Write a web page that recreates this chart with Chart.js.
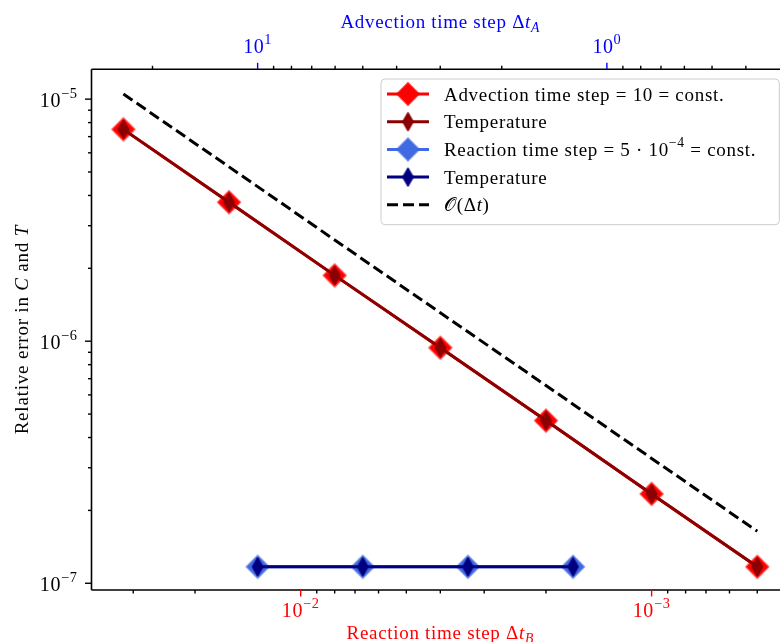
<!DOCTYPE html>
<html>
<head>
<meta charset="utf-8">
<script src="https://cdn.jsdelivr.net/npm/chart.js@4.4.1/dist/chart.umd.min.js"></script>
<style>
html, body { margin: 0; padding: 0; background: #fff; overflow: hidden; }
#errorChart { position: absolute; left: 0; top: 0; }
</style>
</head>
<body>
<canvas id="errorChart" width="800" height="642"></canvas>
<script>
// time steps: reaction (bottom axis) and advection (top axis)
const reactionSteps = [0.032, 0.016, 0.008, 0.004, 0.002, 0.001, 0.0005];
const advectionSteps = [10, 5, 2.5, 1.25];

// relative errors
const errAdvConst = [7.5e-6, 3.75e-6, 1.87e-6, 9.4e-7, 4.7e-7, 2.34e-7, 1.17e-7];
const tempAdvConst = [7.5e-6, 3.75e-6, 1.87e-6, 9.4e-7, 4.7e-7, 2.34e-7, 1.17e-7];
const errReacConst = [1.17e-7, 1.17e-7, 1.17e-7, 1.17e-7];
const tempReacConst = [1.17e-7, 1.17e-7, 1.17e-7, 1.17e-7];
const orderRef = [1.05e-5, 5.25e-6, 2.62e-6, 1.31e-6, 6.56e-7, 3.28e-7, 1.64e-7];

// major ticks
const yTicks = [1e-5, 1e-6, 1e-7];
const bottomTicks = [1e-2, 1e-3];
const topTicks = [10, 1];

const FONT = '"Liberation Serif", "DejaVu Serif", serif';

function diamondImg(w, h, fill, edge, lw) {
    const c = document.createElement('canvas');
    c.width = Math.ceil(w + lw * 2 + 2);
    c.height = Math.ceil(h + lw * 2 + 2);
    const g = c.getContext('2d');
    const cx = c.width / 2, cy = c.height / 2;
    g.beginPath();
    g.moveTo(cx, cy - h / 2);
    g.lineTo(cx + w / 2, cy);
    g.lineTo(cx, cy + h / 2);
    g.lineTo(cx - w / 2, cy);
    g.closePath();
    g.fillStyle = fill;
    g.fill();
    if (lw) {
        g.strokeStyle = edge;
        g.lineWidth = lw;
        g.stroke();
    }
    return c;
}

const bigRed = diamondImg(22, 22, '#ff0000', 'rgba(255,0,0,0.65)', 2);
const thinDarkRed = diamondImg(11, 19, '#8b0000', '#8b0000', 1);
const bigBlue = diamondImg(22, 22, '#4169e1', 'rgba(65,105,225,0.65)', 2);
const thinNavy = diamondImg(11, 19, '#000080', '#000080', 1);

function pts(xs, ys) {
    return xs.map((x, i) => ({x: x, y: ys[i]}));
}

// rich text helpers: kinds r (roman), i (italic), sup, sub (italic subscript)
function fontFor(k, size) {
    const small = k === 'sup' || k === 'sub';
    const italic = k === 'i' || k === 'sub';
    return (italic ? 'italic ' : '') + (small ? (size * 0.72).toFixed(1) : size) + 'px ' + FONT;
}

function drawRich(ctx, parts, x, y, size, align, color, spacing) {
    ctx.letterSpacing = (spacing || 0) + 'px';
    let w = 0;
    const segs = parts.map(([t, k]) => {
        ctx.font = fontFor(k, size);
        const sw = ctx.measureText(t).width;
        w += sw;
        return {t, k, sw};
    });
    let cx = align === 'center' ? x - w / 2 : align === 'right' ? x - w : x;
    ctx.fillStyle = color;
    ctx.textAlign = 'left';
    ctx.textBaseline = 'alphabetic';
    for (const s of segs) {
        ctx.font = fontFor(s.k, size);
        const dy = s.k === 'sup' ? -size * 0.45 : s.k === 'sub' ? size * 0.22 : 0;
        ctx.fillText(s.t, cx, y + dy);
        cx += s.sw;
    }
    ctx.letterSpacing = '0px';
}

function expLabel(v) {
    const e = Math.round(Math.log10(v));
    return [['10', 'r'], [(e < 0 ? '\u2212' : '') + Math.abs(e), 'sup']];
}

function minorValues(min, max) {
    const out = [];
    for (let e = Math.floor(Math.log10(min)); e <= Math.ceil(Math.log10(max)); e++) {
        for (let m = 2; m <= 9; m++) {
            const v = m * Math.pow(10, e);
            if (v >= min && v <= max) out.push(v);
        }
    }
    return out;
}

const legendParts = [
    [['Advection time step = 10 = const.', 'r']],
    [['Temperature', 'r']],
    [['Reaction time step = 5 \u00b7 10', 'r'], ['\u22124', 'sup'], [' = const.', 'r']],
    [['Temperature', 'r']],
    [['\ud835\udcaa', 'r'], ['(\u0394', 'r'], ['t', 'i'], [')', 'r']]
];

const axesDecor = {
    id: 'axesDecor',
    afterDatasetsDraw(chart) {
        const ctx = chart.ctx;
        const a = chart.chartArea;
        const sx = chart.scales.x, sx2 = chart.scales.x2, sy = chart.scales.y;
        ctx.save();

        // spines
        ctx.strokeStyle = '#000';
        ctx.lineWidth = 1.6;
        ctx.beginPath();
        ctx.moveTo(a.left, a.top); ctx.lineTo(a.right, a.top);
        ctx.moveTo(a.left, a.bottom); ctx.lineTo(a.right, a.bottom);
        ctx.moveTo(a.left, a.top); ctx.lineTo(a.left, a.bottom);
        ctx.moveTo(a.right, a.top); ctx.lineTo(a.right, a.bottom);
        ctx.stroke();

        // ticks
        ctx.lineWidth = 1.4;
        const tick = (x1, y1, x2, y2, col) => {
            ctx.strokeStyle = col;
            ctx.beginPath(); ctx.moveTo(x1, y1); ctx.lineTo(x2, y2); ctx.stroke();
        };
        minorValues(sy.min, sy.max).forEach(v => {
            const p = sy.getPixelForValue(v);
            tick(a.left, p, a.left - 3.5, p, '#000');
        });
        yTicks.forEach(v => {
            const p = sy.getPixelForValue(v);
            tick(a.left, p, a.left - 6.5, p, '#000');
            drawRich(ctx, expLabel(v), a.left - 14, p + 7.5, 20, 'right', '#000', 0.6);
        });
        minorValues(sx.min, sx.max).forEach(v => {
            const p = sx.getPixelForValue(v);
            tick(p, a.bottom, p, a.bottom + 3.5, '#000');
        });
        bottomTicks.forEach(v => {
            const p = sx.getPixelForValue(v);
            tick(p, a.bottom, p, a.bottom + 6.5, '#ff0000');
            drawRich(ctx, expLabel(v), p, a.bottom + 26.5, 20, 'center', '#ff0000', 0.6);
        });
        minorValues(sx2.min, sx2.max).forEach(v => {
            const p = sx2.getPixelForValue(v);
            tick(p, a.top, p, a.top - 3.5, '#000');
        });
        topTicks.forEach(v => {
            const p = sx2.getPixelForValue(v);
            tick(p, a.top, p, a.top - 6.5, '#0000ff');
            drawRich(ctx, expLabel(v), p, a.top - 16, 20, 'center', '#0000ff', 0.6);
        });

        // axis titles
        const cx = (a.left + a.right) / 2;
        drawRich(ctx, [['Reaction time step \u0394', 'r'], ['t', 'i'], ['B', 'sub']], cx, 639, 19, 'center', '#ff0000', 0.7);
        drawRich(ctx, [['Advection time step \u0394', 'r'], ['t', 'i'], ['A', 'sub']], cx, 28, 19, 'center', '#0000ff', 0.7);
        ctx.save();
        ctx.translate(28, (a.top + a.bottom) / 2);
        ctx.rotate(-Math.PI / 2);
        drawRich(ctx, [['Relative error in ', 'r'], ['C', 'i'], [' and ', 'r'], ['T', 'i']], 0, 0, 19, 'center', '#000', 0.8);
        ctx.restore();

        // legend, anchored to the upper right corner of the axes
        const lw = 398.3, lh = 145.7;
        const lx = a.right - 9.7 - lw, ly = a.top + 9.7;
        ctx.beginPath();
        ctx.roundRect(lx, ly, lw, lh, 4);
        ctx.fillStyle = 'rgba(255,255,255,0.8)';
        ctx.fill();
        ctx.strokeStyle = '#cccccc';
        ctx.lineWidth = 1;
        ctx.stroke();
        chart.data.datasets.forEach((ds, i) => {
            const y = ly + 15 + i * 27.7;
            const hx = lx + 27;
            ctx.save();
            ctx.strokeStyle = ds.borderColor;
            ctx.lineWidth = ds.borderWidth;
            ctx.setLineDash(ds.borderDash || []);
            ctx.beginPath(); ctx.moveTo(hx - 21, y); ctx.lineTo(hx + 21, y); ctx.stroke();
            ctx.restore();
            if (ds.pointStyle instanceof HTMLCanvasElement) {
                const img = ds.pointStyle;
                ctx.drawImage(img, hx - img.width / 2, y - img.height / 2);
            }
            drawRich(ctx, legendParts[i], lx + 63, y + 6.5, 19, 'left', '#000', 0.7);
        });
        ctx.restore();
    }
};

const myChart = new Chart(document.getElementById('errorChart').getContext('2d'), {
    type: 'line',
    data: {
        datasets: [
            {
                label: 'Advection time step = 10 = const.',
                data: pts(reactionSteps, errAdvConst),
                xAxisID: 'x',
                borderColor: '#ff0000', borderWidth: 3,
                pointStyle: bigRed, pointRadius: 12,
                order: 5
            },
            {
                label: 'Temperature',
                data: pts(reactionSteps, tempAdvConst),
                xAxisID: 'x',
                borderColor: '#8b0000', borderWidth: 3,
                pointStyle: thinDarkRed, pointRadius: 10,
                order: 4
            },
            {
                label: 'Reaction time step = 5e-4 = const.',
                data: pts(advectionSteps, errReacConst),
                xAxisID: 'x2',
                borderColor: '#4169e1', borderWidth: 3,
                pointStyle: bigBlue, pointRadius: 12,
                order: 3
            },
            {
                label: 'Temperature',
                data: pts(advectionSteps, tempReacConst),
                xAxisID: 'x2',
                borderColor: '#000080', borderWidth: 3,
                pointStyle: thinNavy, pointRadius: 10,
                order: 2
            },
            {
                label: 'O(dt)',
                data: pts(reactionSteps, orderRef),
                xAxisID: 'x',
                borderColor: '#000000', borderWidth: 3,
                borderDash: [11, 5],
                pointRadius: 0,
                order: 1
            }
        ]
    },
    options: {
        responsive: false,
        animation: false,
        events: [],
        layout: { autoPadding: false, padding: { left: 91.5, top: 69.3, right: 11, bottom: 52 } },
        plugins: { legend: { display: false }, tooltip: { enabled: false } },
        elements: { line: { tension: 0 } },
        scales: {
            x: {
                type: 'logarithmic', position: 'bottom', reverse: true,
                min: 4.06e-4, max: 0.03945, bounds: 'data', display: false
            },
            x2: {
                type: 'logarithmic', position: 'top', reverse: true,
                min: 0.301, max: 29.9, bounds: 'data', display: false
            },
            y: {
                type: 'logarithmic', position: 'left',
                min: 9.38e-8, max: 1.328e-5, bounds: 'data', display: false
            }
        }
    },
    plugins: [axesDecor]
});
</script>
</body>
</html>
